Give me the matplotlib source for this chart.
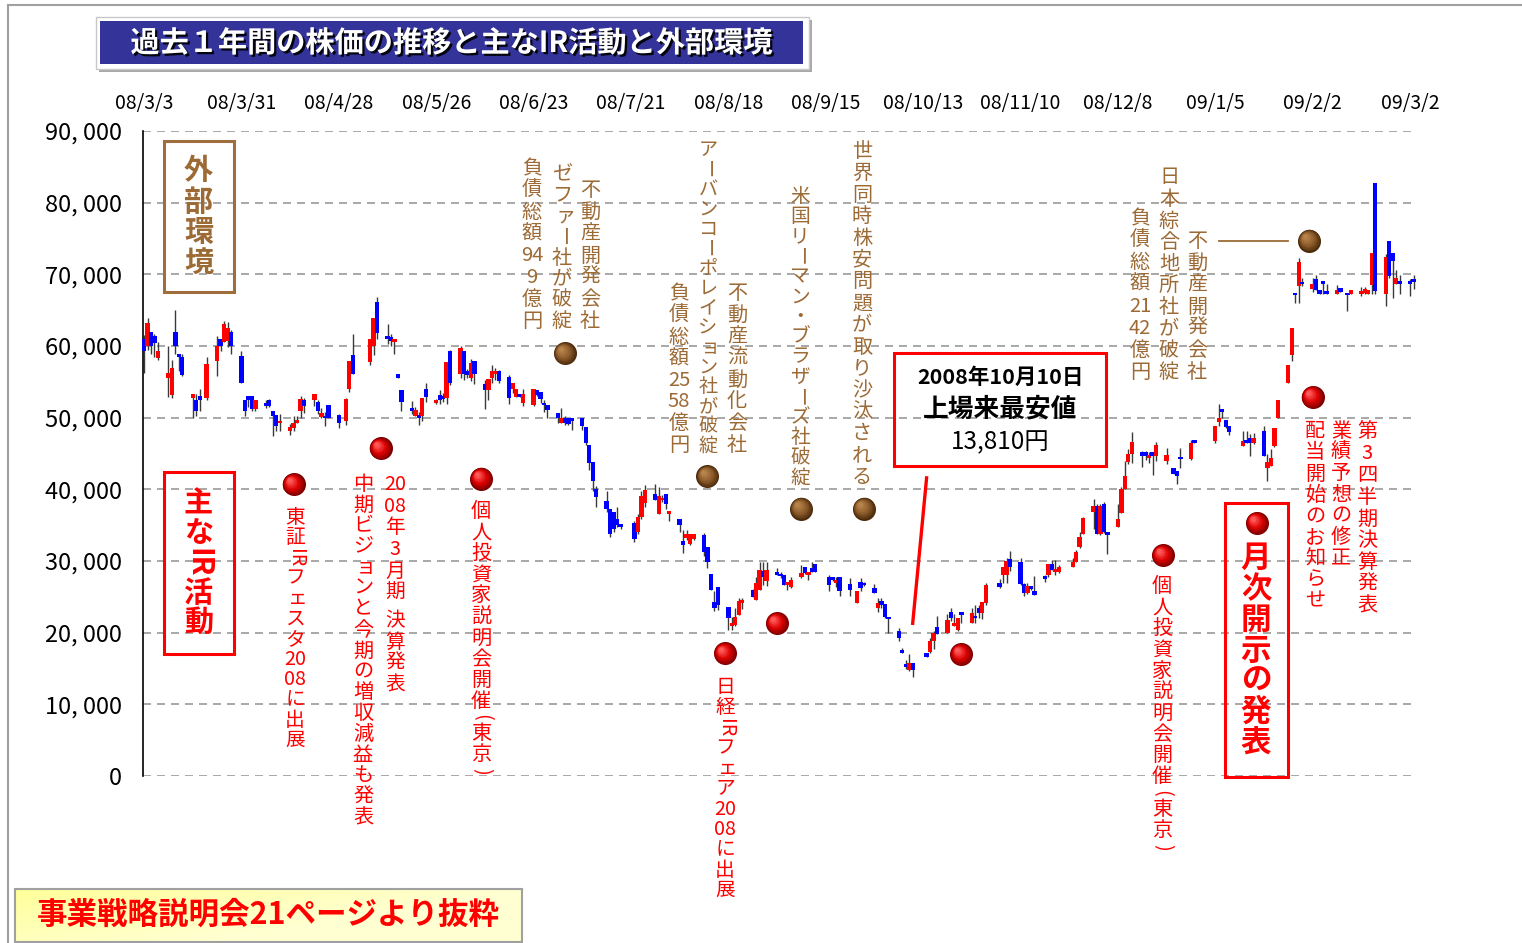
import numpy as np
import pandas as pd
import matplotlib
matplotlib.use('Agg')
import matplotlib.pyplot as plt
import matplotlib.dates as mdates
import matplotlib.colors as mcolors
import matplotlib.patheffects as pe
from matplotlib.patches import Rectangle
from matplotlib.transforms import offset_copy

JP = ['Noto Sans CJK JP', 'DejaVu Sans']
plt.rcParams['font.family'] = JP

# ---------------- data (prices in thousand yen) ----------------
dates = [
 '2008-03-03','2008-03-04','2008-03-05','2008-03-06','2008-03-07',
 '2008-03-10','2008-03-11','2008-03-12','2008-03-13','2008-03-14',
 '2008-03-17','2008-03-18','2008-03-19','2008-03-21',
 '2008-03-24','2008-03-25','2008-03-26','2008-03-27','2008-03-28',
 '2008-03-31','2008-04-01','2008-04-02','2008-04-03','2008-04-04',
 '2008-04-07','2008-04-08','2008-04-09','2008-04-10','2008-04-11',
 '2008-04-14','2008-04-15','2008-04-16','2008-04-17','2008-04-18',
 '2008-04-21','2008-04-22','2008-04-23','2008-04-24','2008-04-25',
 '2008-04-28','2008-04-30','2008-05-01','2008-05-02',
 '2008-05-07','2008-05-08','2008-05-09',
 '2008-05-12','2008-05-13','2008-05-14','2008-05-15','2008-05-16',
 '2008-05-19','2008-05-20','2008-05-21','2008-05-22','2008-05-23',
 '2008-05-26','2008-05-27','2008-05-28','2008-05-29','2008-05-30',
 '2008-06-02','2008-06-03','2008-06-04','2008-06-05','2008-06-06',
 '2008-06-09','2008-06-10','2008-06-11','2008-06-12','2008-06-13',
 '2008-06-16','2008-06-17','2008-06-18','2008-06-19','2008-06-20',
 '2008-06-23','2008-06-24','2008-06-25','2008-06-26','2008-06-27',
 '2008-06-30','2008-07-01','2008-07-02','2008-07-03','2008-07-04',
 '2008-07-07','2008-07-08','2008-07-09','2008-07-10','2008-07-11',
 '2008-07-14','2008-07-15','2008-07-16','2008-07-17','2008-07-18',
 '2008-07-22','2008-07-23','2008-07-24','2008-07-25',
 '2008-07-28','2008-07-29','2008-07-30','2008-07-31','2008-08-01',
 '2008-08-04','2008-08-05','2008-08-06','2008-08-07','2008-08-08',
 '2008-08-11','2008-08-12','2008-08-13','2008-08-14','2008-08-15',
 '2008-08-18','2008-08-19','2008-08-20','2008-08-21','2008-08-22',
 '2008-08-25','2008-08-26','2008-08-27','2008-08-28','2008-08-29',
 '2008-09-01','2008-09-02','2008-09-03','2008-09-04','2008-09-05',
 '2008-09-08','2008-09-09','2008-09-10','2008-09-11','2008-09-12',
 '2008-09-16','2008-09-17','2008-09-18','2008-09-19',
 '2008-09-22','2008-09-24','2008-09-25','2008-09-26',
 '2008-09-29','2008-09-30','2008-10-01','2008-10-02','2008-10-03',
 '2008-10-06','2008-10-07','2008-10-08','2008-10-09','2008-10-10',
 '2008-10-14','2008-10-15','2008-10-16','2008-10-17',
 '2008-10-20','2008-10-21','2008-10-22','2008-10-23','2008-10-24',
 '2008-10-27','2008-10-28','2008-10-29','2008-10-30','2008-10-31',
 '2008-11-04','2008-11-05','2008-11-06','2008-11-07',
 '2008-11-10','2008-11-11','2008-11-12','2008-11-13','2008-11-14',
 '2008-11-17','2008-11-18','2008-11-19','2008-11-20','2008-11-21',
 '2008-11-25','2008-11-26','2008-11-27','2008-11-28',
 '2008-12-01','2008-12-02','2008-12-03','2008-12-04','2008-12-05',
 '2008-12-08','2008-12-09','2008-12-10','2008-12-11','2008-12-12',
 '2008-12-15','2008-12-16','2008-12-17','2008-12-18','2008-12-19',
 '2008-12-22','2008-12-24','2008-12-25','2008-12-26',
 '2008-12-29','2008-12-30',
 '2009-01-05','2009-01-06','2009-01-07','2009-01-08','2009-01-09',
 '2009-01-13','2009-01-14','2009-01-15','2009-01-16',
 '2009-01-19','2009-01-20','2009-01-21','2009-01-22','2009-01-23',
 '2009-01-26','2009-01-27','2009-01-28','2009-01-29','2009-01-30',
 '2009-02-02','2009-02-03','2009-02-04','2009-02-05','2009-02-06',
 '2009-02-09','2009-02-10','2009-02-12','2009-02-13',
 '2009-02-16','2009-02-17','2009-02-18','2009-02-19','2009-02-20',
 '2009-02-23','2009-02-24','2009-02-25','2009-02-26','2009-02-27',
 '2009-03-02','2009-03-03',
]

open_k = [
 61.0,60.0,61.9,61.4,58.3,
 55.5,53.2,61.9,58.9,58.5,
 52.8,52.5,53.0,52.7,
 57.9,61.0,60.5,60.7,61.9,
 58.6,52.5,53.0,53.0,51.2,
 52.1,52.5,51.0,50.4,49.2,
 48.2,48.6,49.3,51.0,52.5,
 52.5,52.2,50.1,50.1,51.8,
 50.4,49.5,54.0,58.8,
 57.7,60.0,66.1,
 61.4,61.2,60.6,56.1,53.8,
 51.2,50.3,50.2,50.3,54.0,
 52.0,53.1,53.0,52.7,59.3,
 56.1,59.3,56.5,55.6,57.9,
 54.7,53.9,55.5,56.1,56.5,
 55.7,54.0,52.9,53.3,52.0,
 51.8,53.9,53.6,51.8,51.7,
 50.7,49.3,50.0,50.0,49.9,
 50.0,48.7,46.2,43.8,40.0,
 38.4,37.3,36.9,35.9,35.2,
 35.3,34.0,36.1,38.1,
 39.4,36.6,38.5,39.3,36.6,
 35.8,32.8,33.2,32.4,33.1,
 33.6,32.0,28.2,24.3,26.4,
 23.6,21.0,21.1,22.5,24.2,
 26.0,24.6,26.0,28.6,27.2,
 28.2,28.2,28.1,26.7,26.4,
 27.7,29.1,28.1,29.0,29.6,
 27.7,27.7,26.9,27.7,
 26.8,24.2,27.1,26.9,
 26.3,23.5,24.4,24.0,22.1,
 20.3,17.6,15.6,14.8,15.8,
 17.1,17.3,18.8,20.8,
 20.0,22.9,21.0,20.4,22.9,
 21.4,22.3,23.4,22.7,24.1,
 26.9,28.0,28.0,30.3,
 29.8,26.8,25.5,26.3,25.8,
 27.7,28.0,29.6,28.5,28.5,
 29.1,29.9,32.0,33.8,
 36.8,37.7,33.7,38.0,34.1,
 34.8,36.7,40.0,43.8,45.0,
 45.2,45.2,44.4,45.2,44.7,
 44.0,43.0,42.6,44.4,
 44.2,46.9,
 46.8,49.4,51.0,49.7,48.8,
 46.0,46.9,47.1,46.4,
 48.1,43.0,43.3,46.0,50.0,
 54.9,58.8,67.4,68.4,68.7,
 68.0,69.3,67.8,69.1,67.4,
 67.3,68.1,67.4,67.3,
 67.3,67.4,67.3,68.5,82.8,
 67.3,74.6,73.0,68.6,69.1,
 69.1,69.2,
]

high_k = [
 61.5,63.9,62.0,61.7,60.5,
 60.0,58.0,65.0,58.9,58.9,
 53.3,53.3,54.0,58.4,
 61.4,61.0,63.5,63.3,62.3,
 59.3,52.5,53.0,53.0,52.5,
 52.5,52.6,51.0,50.4,50.5,
 49.1,50.3,50.3,53.0,52.8,
 53.3,52.4,51.4,50.8,51.8,
 50.5,52.8,57.9,61.7,
 61.0,63.9,66.8,
 63.1,61.7,61.0,56.1,53.8,
 52.3,51.5,50.8,52.8,54.9,
 52.6,53.9,53.4,57.8,59.5,
 60.0,59.3,56.8,58.2,57.9,
 55.2,55.4,57.3,57.0,56.7,
 55.9,54.8,54.0,53.3,54.0,
 54.0,53.9,53.6,52.4,51.7,
 50.7,51.4,50.2,50.0,49.9,
 50.0,48.7,46.2,43.8,40.5,
 39.7,37.3,36.9,37.5,35.2,
 35.6,36.6,39.7,40.6,
 40.8,40.3,39.2,39.3,36.7,
 35.8,34.3,34.3,33.8,33.8,
 33.9,32.0,28.2,25.8,26.4,
 23.6,22.2,23.5,24.8,24.8,
 26.1,27.8,29.9,29.9,29.9,
 29.0,28.4,28.1,26.9,27.7,
 29.4,29.1,28.5,29.8,29.6,
 28.0,27.7,27.8,27.7,
 27.6,25.8,27.6,27.1,
 26.8,24.9,24.9,24.0,22.1,
 20.6,17.8,16.2,17.0,15.8,
 17.1,19.2,20.3,22.3,
 22.6,23.5,22.6,22.1,22.9,
 23.4,23.9,23.9,24.3,26.9,
 27.5,29.1,30.4,31.4,
 30.4,27.0,26.9,26.5,27.9,
 28.1,29.6,30.2,30.2,29.5,
 30.4,31.5,34.1,36.1,
 38.6,37.9,37.9,38.2,34.1,
 37.9,40.3,44.0,45.6,48.0,
 45.4,45.4,45.2,45.2,46.6,
 45.8,43.0,42.6,45.8,
 46.9,46.9,
 48.8,51.9,51.0,49.7,48.8,
 48.1,48.1,47.7,47.9,
 48.8,44.9,45.6,48.6,52.5,
 57.4,62.5,67.4,72.3,69.5,
 69.5,69.9,67.8,69.1,68.6,
 68.5,68.1,67.4,67.8,
 68.2,68.2,67.8,73.0,82.8,
 72.8,74.6,73.0,70.6,69.9,
 69.3,69.9,
]

low_k = [
 56.3,59.5,58.9,58.4,58.0,
 52.9,52.8,58.9,56.5,55.8,
 50.0,50.2,50.9,52.4,
 55.8,59.3,60.5,59.8,58.9,
 54.9,50.2,51.5,51.0,51.0,
 51.4,51.5,47.4,48.2,48.2,
 47.6,48.2,49.3,50.0,50.6,
 51.6,50.5,49.9,48.9,49.9,
 48.6,49.0,53.6,56.1,
 57.4,58.7,61.0,
 60.3,60.0,58.9,55.6,51.0,
 50.5,50.2,49.0,49.6,52.2,
 51.9,51.9,52.2,51.9,54.6,
 55.6,55.2,55.6,55.1,54.7,
 51.2,52.4,54.8,55.2,54.9,
 51.9,53.5,52.9,52.9,51.6,
 51.6,53.0,52.0,50.8,50.0,
 49.3,49.2,49.0,49.0,48.3,
 48.3,46.2,42.7,39.7,37.6,
 36.9,33.4,34.1,34.7,34.5,
 32.7,33.8,35.9,37.6,
 38.5,36.6,38.3,37.3,35.6,
 34.1,31.1,32.9,32.3,33.0,
 30.7,29.0,26.0,23.0,23.1,
 20.4,20.4,21.0,22.4,23.3,
 25.0,24.6,25.9,26.7,26.5,
 28.1,27.6,26.6,25.9,26.3,
 27.6,28.2,27.3,28.5,28.5,
 25.8,27.2,26.4,25.1,
 25.1,24.2,25.8,26.5,
 25.6,22.9,23.5,22.1,20.0,
 18.9,17.2,15.0,14.7,13.81,
 16.6,17.2,17.7,19.8,
 20.0,21.6,20.9,20.3,21.4,
 21.4,21.4,22.1,21.9,23.9,
 26.2,26.9,26.9,28.6,
 26.6,25.1,25.4,25.9,25.3,
 27.1,27.7,28.7,28.0,28.3,
 29.1,29.9,31.8,33.7,
 34.4,33.7,33.6,33.9,31.0,
 34.8,36.7,40.0,43.6,43.7,
 43.1,44.1,43.7,42.0,44.0,
 43.6,42.2,40.7,43.0,
 44.1,46.4,
 46.4,48.8,49.9,48.5,47.6,
 46.0,46.4,44.7,46.3,
 44.7,41.2,43.3,45.9,50.0,
 54.9,57.9,66.0,66.0,68.4,
 67.5,67.8,67.3,67.3,67.3,
 67.3,67.6,64.9,67.3,
 67.0,67.3,67.3,67.3,67.3,
 65.6,69.5,66.7,68.6,67.3,
 67.0,68.0,
]

close_k = [
 59.3,63.2,60.0,60.4,59.3,
 56.3,56.9,60.0,58.4,55.9,
 53.3,50.9,52.4,57.5,
 60.0,60.0,63.1,62.5,60.0,
 54.9,50.9,52.4,51.2,52.5,
 51.6,51.6,50.3,48.9,49.3,
 48.7,49.3,49.7,52.6,51.6,
 53.3,51.0,50.6,49.9,49.9,
 49.3,52.6,57.9,56.1,
 61.0,63.9,61.8,
 61.0,60.7,61.0,55.6,52.2,
 51.0,51.1,50.0,52.7,52.9,
 52.5,52.5,52.6,57.8,54.9,
 59.7,56.1,56.0,57.6,56.1,
 53.9,55.4,56.5,56.5,55.1,
 52.8,54.8,54.0,52.9,53.3,
 54.0,53.2,52.6,51.7,51.1,
 50.0,50.0,49.2,49.1,49.5,
 48.9,46.5,43.7,41.1,38.9,
 37.3,33.8,34.4,35.0,34.7,
 33.1,36.2,39.0,39.9,
 38.5,39.1,38.8,38.0,36.7,
 35.0,32.3,33.8,33.7,33.7,
 31.3,29.9,26.0,23.5,23.8,
 22.1,21.2,22.2,24.4,24.5,
 25.0,26.9,28.7,27.8,28.8,
 28.1,27.9,26.7,26.9,27.4,
 28.3,28.3,28.5,28.5,28.5,
 26.6,27.4,27.4,25.8,
 25.9,25.8,26.3,26.6,
 25.6,24.2,23.8,22.2,21.9,
 19.2,17.2,15.2,15.8,14.8,
 16.6,18.9,20.0,19.8,
 21.7,22.0,21.4,22.1,22.4,
 22.7,22.0,22.7,24.3,26.7,
 26.4,29.1,30.0,29.1,
 26.8,25.5,26.5,26.1,25.3,
 27.5,29.6,28.7,28.7,29.1,
 29.9,31.3,33.3,36.0,
 37.7,33.7,37.7,34.1,33.6,
 35.9,40.0,41.9,44.9,46.6,
 44.6,44.7,44.8,44.6,46.2,
 44.8,42.2,41.9,44.2,
 46.5,46.4,
 48.8,50.0,50.8,48.7,48.0,
 46.8,46.4,46.4,47.1,
 44.7,43.8,44.4,48.6,52.5,
 57.4,62.5,67.1,71.7,68.6,
 68.6,67.8,67.3,68.6,67.3,
 67.8,67.6,67.1,67.8,
 67.6,68.0,67.8,73.0,67.7,
 72.4,69.8,71.9,69.5,68.6,
 68.6,69.0,
]

tick_dates = ['2008-03-03','2008-03-31','2008-04-28','2008-05-26','2008-06-23',
              '2008-07-21','2008-08-18','2008-09-15','2008-10-13','2008-11-10',
              '2008-12-08','2009-01-05','2009-02-02','2009-03-02']
tick_labels = ['08/3/3','08/3/31','08/4/28','08/5/26','08/6/23','08/7/21','08/8/18',
               '08/9/15','08/10/13','08/11/10','08/12/8','09/1/5','09/2/2','09/3/2']
y_ticks = [0, 10000, 20000, 30000, 40000, 50000, 60000, 70000, 80000, 90000]

# event markers (date, price level)
ir_dates = ['2008-04-15','2008-05-10','2008-06-08','2008-08-17','2008-09-01',
            '2008-10-24','2008-12-21','2009-01-17','2009-02-02']
ir_levels = [40700, 45700, 41500, 17100, 21300, 17000, 30800, 35300, 52900]
ext_dates = ['2008-07-02','2008-08-12','2008-09-08','2008-09-26','2009-02-01']
ext_levels = [59000, 41800, 37300, 37300, 74700]
ext_leader_dates = ['2009-01-06','2009-01-26']
ext_leader_level = 74700
low_leader_dates = ['2008-10-14','2008-10-10']
low_leader_levels = [41600, 21300]

# ---------------- figure ----------------
W, H = 1522, 943
fig = plt.figure(figsize=(W/100, H/100), dpi=100)
fig.patch.set_facecolor('white')

ax_l, ax_r, ax_t, ax_b = 143, 1412, 131, 776
ax = fig.add_axes([ax_l/W, (H-ax_b)/H, (ax_r-ax_l)/W, (ax_b-ax_t)/H])
ax.set_facecolor('none')

x = mdates.date2num(pd.to_datetime(dates))
o = np.array(open_k)*1000
h = np.array(high_k)*1000
l = np.array(low_k)*1000
c = np.array(close_k)*1000
up = c > o
cols = np.where(up, '#FF0000', '#0000FF')
bottom = np.minimum(o, c)
height = np.maximum(np.abs(c-o), 350)

ax.vlines(x, l, h, color='#3a3a3a', lw=1.0, zorder=2, clip_on=False)
ax.bar(x, height, bottom=bottom, width=1.25, color=cols, linewidth=0, zorder=3, clip_on=False)

d0 = mdates.date2num(pd.Timestamp('2008-03-03'))
px_per_day = 1266/364
ax.set_xlim(d0-0.3, d0-0.3+(ax_r-ax_l)/px_per_day)
ax.set_ylim(0, 90000)

ax.set_xticks(mdates.date2num(pd.to_datetime(tick_dates)))
ax.set_xticklabels(tick_labels)
ax.xaxis.set_ticks_position('top')
ax.tick_params(axis='x', length=0, pad=12, labelsize=14)
ax.set_yticks(y_ticks)
ax.set_yticklabels([f"{v:,}".replace(',', ', ') for v in y_ticks])
ax.tick_params(axis='y', length=0, pad=15, labelsize=17)
ax.yaxis.grid(True, color='#999999', linestyle=(0, (4.8, 3.6)), lw=1.2)
ax.set_axisbelow(True)
for s in ['top', 'right', 'bottom']:
    ax.spines[s].set_visible(False)
ax.spines['left'].set_color('black')
ax.spines['left'].set_linewidth(1.2)


def balls(xs, ys, r_px, dark, mid, light):
    cd, cm, cl = (np.array(mcolors.to_rgb(cc)) for cc in (dark, mid, light))
    n = 14
    for i in range(n):
        t = i/(n-1)
        rr = r_px*(1-0.82*t)
        off = (r_px-rr)*0.45
        col = cd+(cm-cd)*(t/0.45) if t < 0.45 else cm+(cl-cm)*((t-0.45)/0.55)
        tr = offset_copy(ax.transData, fig=fig, x=-off*0.72, y=off*0.72, units='points')
        ax.scatter(xs, ys, s=(2*rr*0.72)**2, color=np.clip(col, 0, 1), transform=tr,
                   linewidths=0, zorder=20+i*0.01, clip_on=False)


balls(mdates.date2num(pd.to_datetime(ir_dates)), ir_levels, 11.5, '#7a0000', '#dc0000', '#ff5a5a')
balls(mdates.date2num(pd.to_datetime(ext_dates)), ext_levels, 11.5, '#4a2a0a', '#8a5a2a', '#b8844c')
ax.plot(mdates.date2num(pd.to_datetime(ext_leader_dates)), [ext_leader_level]*2,
        color='#9c6a35', lw=1.3, zorder=15, clip_on=False)
ax.plot(mdates.date2num(pd.to_datetime(low_leader_dates)), low_leader_levels,
        color='#FF0000', lw=2.4, zorder=15, clip_on=False)

# ---------------- overlay (pixel coordinates) ----------------
ov = fig.add_axes([0, 0, 1, 1], zorder=5)
ov.set_xlim(0, W)
ov.set_ylim(H, 0)
ov.axis('off')
ov.patch.set_alpha(0)

BROWN = '#9c6a35'
RED = '#FF0000'
SMALL = set('ァィゥェォャュョッ')
ROT = set('ー()')


def tokenize(s):
    toks, i = [], 0
    while i < len(s):
        ch = s[i]
        if ch.isascii() and ch.isdigit():
            j = i
            while j < len(s) and s[j].isascii() and s[j].isdigit():
                j += 1
            run = s[i:j]
            toks += [run[k:k+2] for k in range(0, len(run), 2)]
            i = j
        elif ch.isascii() and ch.isalpha():
            j = i
            while j < len(s) and s[j].isascii() and s[j].isalpha():
                j += 1
            toks.append(s[i:j])
            i = j
        else:
            toks.append(ch)
            i += 1
    return toks


def vtext(xc, top, bot, s, size, color, weight='normal'):
    toks = tokenize(s)
    adv = [0.55 if t in '()' else (0.3 if t == ' ' else 1.0) for t in toks]
    step = (bot-top)/sum(adv)
    em = size*100/72
    cum = 0
    for t, a in zip(toks, adv):
        yc = top+(cum+a/2)*step
        cum += a
        if t == ' ':
            continue
        rot = -90 if (t in ROT or t.isalpha() and t.isascii()) else 0
        dx = 0.15*em if t in SMALL else 0
        ov.text(xc+dx, yc, t, rotation=rot, rotation_mode='anchor', ha='center', va='center',
                fontsize=size, color=color, fontweight=weight, family=JP)


# outer frame
ov.plot([8, 8], [5, H], color='#a0a0a0', lw=1.5)
ov.plot([8, W], [5, 5], color='#a0a0a0', lw=1.5)

# title
ov.add_patch(Rectangle((99, 20), 713, 52, fc='#a8a8a8', ec='none', zorder=1))
ov.add_patch(Rectangle((96, 17), 713, 52, fc='white', ec='#c8c8c8', lw=1, zorder=2))
ov.add_patch(Rectangle((100, 21), 703, 43, fc='#333399', ec='none', zorder=3))
ov.text(451, 43, '過去１年間の株価の推移と主なIR活動と外部環境', ha='center', va='center',
        fontsize=21, fontweight='bold', color='white', zorder=4,
        path_effects=[pe.withSimplePatchShadow(offset=(1.6, -1.6), shadow_rgbFace='black', alpha=0.9)])

# side boxes
ov.add_patch(Rectangle((164, 141), 70, 151, fill=False, ec='#a06e3c', lw=2.2))
vtext(198.5, 155, 279, '外部環境', 21, BROWN, 'bold')
ov.add_patch(Rectangle((164, 472), 70, 182, fill=False, ec=RED, lw=2.2))
vtext(198.5, 489, 637, '主なIR活動', 21, RED, 'bold')
ov.add_patch(Rectangle((1225, 503), 63, 274, fill=False, ec=RED, lw=2.2))
vtext(1256, 543, 758, '月次開示の発表', 22, RED, 'bold')

# brown annotations
brown_notes = [
    (590, 180, 332, '不動産開発会社', 14.5),
    (562, 163, 332, 'ゼファー社が破綻', 14.5),
    (532, 158, 332, '負債総額949億円', 14.5),
    (708, 140, 456, 'アーバンコーポレイション社が破綻', 13.8),
    (737, 283, 456, '不動産流動化会社', 14.5),
    (679, 283, 456, '負債総額2558億円', 14.5),
    (800, 186, 488, '米国リーマン・ブラザーズ社破綻', 14.2),
    (862, 141, 488, '世界同時株安問題が取り沙汰される', 14.5),
    (1197, 231, 383, '不動産開発会社', 14.5),
    (1169, 167, 383, '日本綜合地所社が破綻', 14.5),
    (1140, 208, 383, '負債総額2142億円', 14.5),
]
for xc, t0, t1, s, fs in brown_notes:
    vtext(xc, t0, t1, s, fs, BROWN)

red_notes = [
    (295, 507, 751, '東証IRフェスタ2008に出展', 14.2),
    (395, 474, 696, '2008年3月期 決算発表', 14.2),
    (363, 474, 828, '中期ビジョンと今期の増収減益も発表', 14.5),
    (481, 501, 777, '個人投資家説明会開催(東京)', 14.5),
    (725, 677, 901, '日経IRフェア2008に出展', 14.2),
    (1162, 576, 853, '個人投資家説明会開催(東京)', 14.5),
    (1367, 421, 617, '第3四半期決算発表', 14.5),
    (1341, 421, 569, '業績予想の修正', 14.5),
    (1315, 421, 612, '配当開始のお知らせ', 14.5),
]
for xc, t0, t1, s, fs in red_notes:
    vtext(xc, t0, t1, s, fs, RED)

# lowest price box
ov.add_patch(Rectangle((894, 353), 212, 113, fill=False, ec=RED, lw=2.2))
ov.text(1000, 377, '2008年10月10日', ha='center', va='center', fontsize=15.5, fontweight='bold', color='black')
ov.text(1000, 409, '上場来最安値', ha='center', va='center', fontsize=18.5, fontweight='bold', color='black')
ov.text(1000, 442, '13,810円', ha='center', va='center', fontsize=17.5, color='black')

# bottom note with gradient
gx, gy = np.meshgrid(np.linspace(0, 1, 200), np.linspace(0, 1, 40))
tgrad = np.clip((gx*0.6 + (1-gy)*0.4)*1.6, 0, 1)
c0 = np.array(mcolors.to_rgb('#ffff9a'))
c1 = np.array(mcolors.to_rgb('#ffffd2'))
img = c0[None, None, :]*(1-tgrad[..., None]) + c1[None, None, :]*tgrad[..., None]
img = img[::-1]
ov.imshow(img, extent=(15, 522, 942, 889), origin='upper', aspect='auto', zorder=1)
ov.add_patch(Rectangle((15, 889), 507, 53, fill=False, ec='#a0a0a0', lw=1.5, zorder=2))
ov.text(268, 915, '事業戦略説明会21ページより抜粋', ha='center', va='center', fontsize=22,
        fontweight='bold', color=RED, zorder=3)
ov.set_xlim(0, W)
ov.set_ylim(H, 0)

fig.savefig('out.png', dpi=100)
